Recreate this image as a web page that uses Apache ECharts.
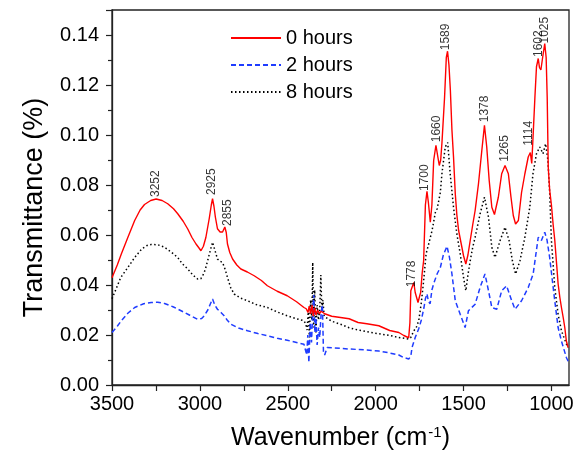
<!DOCTYPE html>
<html>
<head>
<meta charset="utf-8">
<script src="https://cdn.jsdelivr.net/npm/echarts@6/dist/echarts.min.js"></script>
<style>
html,body{margin:0;padding:0;background:#fff;}
#chart{width:578px;height:458px;}
</style>
</head>
<body>
<div id="chart"></div>
<script>
// ---- data (wavenumber in cm^-1, transmittance) ----
const wn0 = [3500,3470,3447,3410,3371,3340,3315,3280,3249,3215,3183,3150,3126,3095,3069,3045,3022,3005,2994,2980,2966,2947,2935,2928,2920,2912,2900,2885,2871,2858,2850,2843,2830,2814,2790,2767,2730,2691,2650,2616,2560,2503,2450,2408,2395,2385,2378,2370,2362,2355,2347,2340,2330,2320,2310,2300,2290,2250,2200,2151,2100,2050,1982,1920,1868,1840,1812,1805,1800,1790,1783,1775,1765,1759,1750,1744,1735,1727,1717,1708,1700,1689,1680,1670,1657,1648,1638,1630,1623,1608,1598,1591,1583,1575,1566,1557,1547,1538,1528,1513,1500,1487,1475,1462,1448,1434,1415,1396,1381,1368,1354,1339,1324,1302,1283,1264,1245,1230,1217,1204,1188,1170,1151,1132,1120,1112,1104,1094,1085,1075,1068,1060,1050,1038,1030,1024,1018,1010,1000,990,981,970,962,952,943,933,924,915,905];
const t0 = [0.0429,0.048,0.0524,0.059,0.0658,0.070,0.0722,0.0738,0.0744,0.0738,0.0725,0.0705,0.0685,0.0655,0.0624,0.059,0.0564,0.0548,0.0537,0.0555,0.059,0.0665,0.072,0.0745,0.0715,0.0672,0.0625,0.0612,0.0612,0.0632,0.061,0.0564,0.053,0.0504,0.048,0.0464,0.0452,0.0437,0.0418,0.0397,0.0375,0.0357,0.0333,0.031,0.0305,0.029,0.0315,0.0285,0.032,0.0275,0.031,0.028,0.030,0.0285,0.0295,0.029,0.0285,0.0275,0.027,0.0265,0.025,0.0245,0.0237,0.0218,0.021,0.0198,0.0189,0.025,0.0377,0.0385,0.041,0.037,0.0345,0.033,0.0355,0.037,0.045,0.0497,0.072,0.0775,0.073,0.0651,0.072,0.0898,0.0959,0.092,0.0878,0.090,0.0967,0.115,0.131,0.1335,0.128,0.118,0.102,0.0912,0.0765,0.068,0.0618,0.0564,0.0517,0.0484,0.052,0.0578,0.064,0.0698,0.0805,0.0938,0.1039,0.0952,0.0818,0.0711,0.0682,0.0751,0.0845,0.0878,0.0845,0.0751,0.0678,0.0644,0.0658,0.077,0.0845,0.0912,0.093,0.0886,0.100,0.115,0.1273,0.1306,0.127,0.126,0.131,0.1366,0.131,0.115,0.087,0.078,0.072,0.064,0.058,0.048,0.0405,0.035,0.031,0.027,0.023,0.0176,0.015];

const wn2 = [3500,3470,3447,3410,3371,3320,3277,3240,3201,3150,3107,3060,3013,2990,2975,2955,2940,2928,2915,2900,2880,2862,2845,2824,2780,2729,2670,2616,2560,2503,2450,2408,2398,2392,2386,2380,2372,2365,2358,2352,2346,2340,2333,2325,2318,2310,2303,2297,2290,2276,2200,2151,2050,1982,1920,1868,1841,1812,1800,1793,1775,1755,1740,1725,1717,1708,1700,1690,1680,1670,1650,1632,1615,1594,1580,1566,1547,1519,1491,1472,1434,1406,1378,1358,1339,1311,1283,1255,1226,1207,1170,1132,1104,1075,1057,1038,1025,1010,995,981,962,943,915,905];
const t2 = [0.021,0.0235,0.0257,0.0287,0.031,0.0325,0.033,0.0331,0.0326,0.0312,0.0297,0.028,0.0263,0.0266,0.0277,0.030,0.0325,0.0344,0.032,0.0303,0.029,0.0277,0.026,0.0243,0.0228,0.0217,0.0206,0.0197,0.0187,0.0179,0.017,0.0163,0.016,0.012,0.020,0.009,0.025,0.017,0.029,0.036,0.021,0.027,0.016,0.023,0.019,0.029,0.032,0.0135,0.012,0.015,0.0147,0.0144,0.014,0.0136,0.0128,0.012,0.011,0.0104,0.0115,0.015,0.019,0.0225,0.026,0.031,0.0345,0.0365,0.0335,0.0325,0.038,0.0405,0.0445,0.047,0.052,0.0555,0.051,0.0444,0.0337,0.0283,0.023,0.0297,0.0323,0.039,0.0444,0.0377,0.031,0.0303,0.0377,0.0397,0.0337,0.0303,0.0337,0.039,0.0444,0.0591,0.0578,0.0611,0.058,0.051,0.042,0.0337,0.023,0.0176,0.011,0.0095];

const wn8 = [3500,3450,3410,3371,3330,3300,3277,3240,3201,3160,3126,3100,3069,3040,3013,2995,2984,2970,2956,2940,2928,2915,2900,2885,2871,2855,2843,2825,2805,2770,2729,2680,2616,2560,2503,2450,2408,2398,2390,2383,2377,2370,2363,2358,2353,2347,2340,2333,2325,2318,2312,2306,2300,2293,2250,2200,2151,2100,2050,1982,1920,1868,1812,1800,1783,1770,1755,1740,1727,1713,1698,1679,1660,1650,1642,1632,1623,1604,1590,1576,1557,1538,1519,1500,1487,1475,1462,1448,1434,1406,1381,1358,1339,1321,1292,1264,1241,1222,1204,1179,1151,1123,1105,1085,1066,1048,1033,1020,1010,1000,981,962,943,915,905];
const t8 = [0.0345,0.043,0.047,0.051,0.0545,0.0558,0.0562,0.0561,0.0551,0.053,0.051,0.0485,0.0464,0.044,0.0424,0.0425,0.0437,0.046,0.0497,0.054,0.0571,0.054,0.0504,0.0495,0.049,0.046,0.043,0.039,0.0364,0.0348,0.0337,0.0322,0.031,0.0292,0.0277,0.0265,0.0257,0.0245,0.022,0.030,0.019,0.034,0.026,0.049,0.023,0.038,0.021,0.032,0.026,0.030,0.044,0.030,0.034,0.0275,0.0255,0.0243,0.0229,0.022,0.0213,0.0205,0.0198,0.019,0.0184,0.019,0.0217,0.0228,0.0257,0.033,0.0417,0.0525,0.0565,0.0618,0.0691,0.0705,0.0698,0.077,0.0845,0.0952,0.097,0.0845,0.0711,0.0604,0.0525,0.043,0.0377,0.044,0.0497,0.055,0.0591,0.0684,0.0751,0.0671,0.0551,0.051,0.0578,0.0631,0.0578,0.0497,0.0444,0.0497,0.0591,0.0711,0.0845,0.0925,0.0952,0.0925,0.0965,0.0899,0.077,0.0578,0.039,0.0283,0.0217,0.0164,0.015];

// peak annotations (label text, wavenumber position, transmittance position)
const peakNames = ['3252','2925','2855','1778','1700','1660','1589','1378','1265','1114','1602','1025'];
const peakWn = [3249,2933,2843,1793,1721,1651,1604,1381,1268,1132,1075,1038];
const peakT = [0.0746,0.0754,0.063,0.0385,0.077,0.0965,0.1333,0.1045,0.0887,0.0951,0.1306,0.136];

// axis ticks
const xLabelValues = [1000,1500,2000,2500,3000,3500];
const xTickValues = [1000,1250,1500,1750,2000,2250,2500,2750,3000,3250,3500];

const seriesNames = ['0 hours','2 hours','8 hours'];

const pairs = (xs, ys) => xs.map((x, i) => [x, ys[i]]);
const FONT = 'Liberation Sans, Arial, sans-serif';

const chart = echarts.init(document.getElementById('chart'), null, {renderer: 'canvas'});
chart.setOption({
  animation: false,
  backgroundColor: '#fff',
  grid: {left: 112, right: 9, top: 10, bottom: 73, show: true, borderColor: '#222', borderWidth: 1.3, backgroundColor: 'transparent'},
  legend: {
    data: seriesNames,
    orient: 'vertical',
    left: 230,
    top: 28,
    padding: 0,
    itemWidth: 50,
    itemHeight: 14,
    itemGap: 7,
    itemStyle: {color: 'transparent', borderColor: 'transparent', borderWidth: 0},
    textStyle: {fontFamily: FONT, fontSize: 20, color: '#000'},
    selectedMode: false
  },
  xAxis: {
    type: 'value',
    inverse: true,
    min: 900,
    max: 3500,
    name: 'Wavenumber (cm{sup|-1})',
    nameLocation: 'middle',
    nameGap: 40,
    nameTextStyle: {fontFamily: FONT, fontSize: 25, color: '#000',
      rich: {sup: {fontFamily: FONT, fontSize: 15, color: '#000', verticalAlign: 'top', padding: [0, 0, 12, 1]}}},
    axisLine: {lineStyle: {color: '#222', width: 1.3}},
    axisTick: {inside: false, length: 6, lineStyle: {color: '#222', width: 1.2}, customValues: xTickValues},
    axisLabel: {fontFamily: FONT, fontSize: 20, color: '#000', margin: 9, customValues: xLabelValues,
      formatter: v => String(v)},
    splitLine: {show: false}
  },
  yAxis: {
    type: 'value',
    min: 0,
    max: 0.15,
    interval: 0.02,
    name: 'Transmittance (%)',
    nameLocation: 'middle',
    nameGap: 64,
    nameTextStyle: {fontFamily: FONT, fontSize: 27, color: '#000', padding: [0, 20, 0, 0]},
    axisLine: {show: true, lineStyle: {color: '#222', width: 1.3}},
    axisTick: {inside: false, length: 6, lineStyle: {color: '#222', width: 1.2}},
    minorTick: {show: true, splitNumber: 2, length: 4, lineStyle: {color: '#222', width: 1.2}},
    axisLabel: {fontFamily: FONT, fontSize: 20, color: '#000', margin: 13, showMaxLabel: false,
      formatter: v => v.toFixed(2)},
    splitLine: {show: false}
  },
  series: [
    {name: '0 hours', type: 'line', data: pairs(wn0, t0), symbol: 'none', z: 4,
      lineStyle: {color: '#ff0000', width: 1.4, type: 'solid'}, itemStyle: {color: '#ff0000'}},
    {name: '2 hours', type: 'line', data: pairs(wn2, t2), symbol: 'none', z: 3,
      lineStyle: {color: '#1f3cff', width: 1.5, type: [5, 3]}, itemStyle: {color: '#1f3cff'}},
    {name: '8 hours', type: 'line', data: pairs(wn8, t8), symbol: 'none', z: 2,
      lineStyle: {color: '#000', width: 1.5, type: [1.5, 2.5]}, itemStyle: {color: '#000'}},
    {name: 'peaks', type: 'scatter', silent: true, z: 5,
      data: peakNames.map((n, i) => ({name: n, value: [peakWn[i], peakT[i]]})),
      symbolSize: 1, itemStyle: {color: 'transparent'},
      label: {show: true, position: 'top', distance: 1, rotate: 90, align: 'left', verticalAlign: 'middle',
        formatter: p => p.name, fontFamily: FONT, fontSize: 12, color: '#000'}}
  ]
});
</script>
</body>
</html>
